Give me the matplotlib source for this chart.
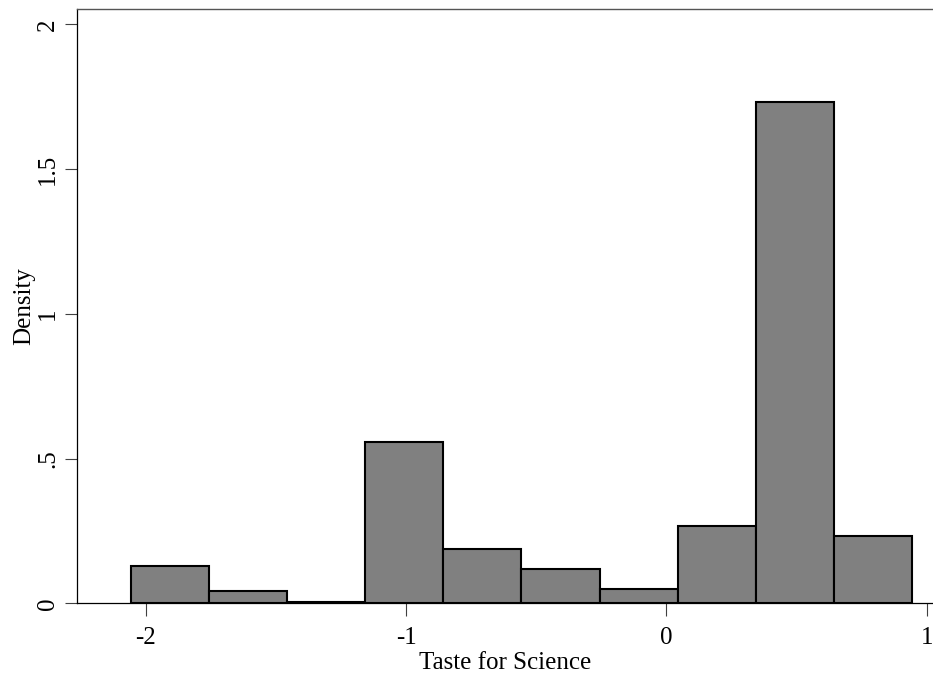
import matplotlib
matplotlib.use("Agg")
import matplotlib.pyplot as plt
import numpy as np

# histogram bins (left edge, width) and densities
bin_start = -2.059
bin_width = 0.3003
density = [0.130, 0.0435, 0.004, 0.557, 0.1876, 0.118, 0.050, 0.267, 1.732, 0.2325]

yticks = [0, 0.5, 1, 1.5, 2]
ytick_labels = ["0", ".5", "1", "1.5", "2"]
xticks = [-2, -1, 0, 1]

plt.rcParams['font.family'] = ['Liberation Serif', 'DejaVu Serif']

fig = plt.figure(figsize=(9.33, 6.75), dpi=100)
ax = fig.add_axes([77 / 933, 1 - 603.3 / 675, 1 - 77 / 933, (603.3 - 9.3) / 675])

lefts = bin_start + bin_width * np.arange(len(density))
ax.bar(lefts, density, width=bin_width, align='edge',
       color='#808080', edgecolor='black', linewidth=1.5)

ax.set_xlim(-2.265, 1.024)
ax.set_ylim(0, 2.052)
ax.set_xticks(xticks)
ax.set_xticklabels([str(t) for t in xticks])
ax.set_yticks(yticks)
ax.set_yticklabels(ytick_labels, rotation=90, va='center')
ax.tick_params(axis='both', direction='out', length=9, width=0.8,
               labelsize=18, color='#404040')
ax.tick_params(axis='x', pad=8)
ax.tick_params(axis='y', pad=4)

ax.set_xlabel("Taste for Science", fontsize=18, labelpad=2)
ax.set_ylabel("Density", fontsize=18, labelpad=1)

for side in ['left', 'bottom']:
    ax.spines[side].set_linewidth(0.9)
    ax.spines[side].set_color('black')
ax.spines['top'].set_linewidth(1.0)
ax.spines['top'].set_color('#555555')
ax.spines['right'].set_visible(False)

fig.savefig("out.png", dpi=100)
